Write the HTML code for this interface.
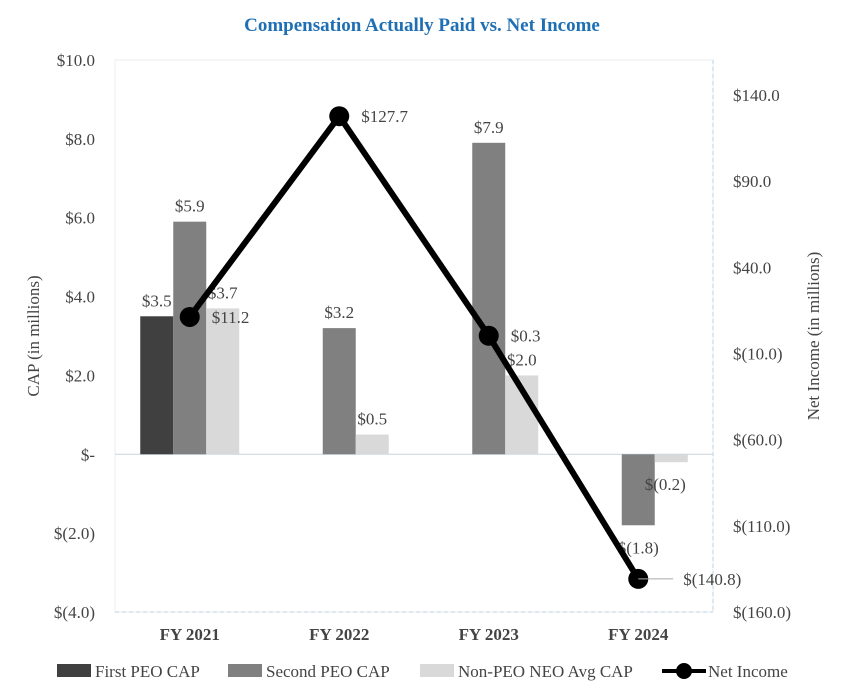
<!DOCTYPE html>
<html><head><meta charset="utf-8"><style>
body{margin:0;background:#fff;}
svg{display:block;font-family:"Liberation Serif",serif;}
</style></head><body>
<svg id="chart" width="846" height="696" viewBox="0 0 846 696">
<text x="422" y="31" text-anchor="middle" font-size="19" font-weight="bold" fill="#1f6fb5">Compensation Actually Paid vs. Net Income</text>
<rect x="115" y="60" width="598" height="552" fill="none" stroke="#eeeeee"/>
<line x1="115" y1="612" x2="713" y2="612" stroke="#b8d3e6" stroke-dasharray="4,3"/>
<line x1="713" y1="60" x2="713" y2="612" stroke="#b8d3e6" stroke-dasharray="4,3"/>
<g id="g-left"></g>
<g id="g-right"></g>
<g id="g-bars"></g>
<g id="g-line"></g>
<g id="g-x"></g>
<text transform="translate(39,336) rotate(-90)" text-anchor="middle" font-size="17" fill="#444">CAP (in millions)</text>
<text transform="translate(819,336) rotate(-90)" text-anchor="middle" font-size="17" fill="#444">Net Income (in millions)</text>
<g>
<g><rect x="57" y="664" width="34" height="13" fill="#404040"/><text x="95" y="677" font-size="17" fill="#444">First PEO CAP</text></g>
<g><rect x="228" y="664" width="34" height="13" fill="#808080"/><text x="266" y="677" font-size="17" fill="#444">Second PEO CAP</text></g>
<g><rect x="420" y="664" width="34" height="13" fill="#d9d9d9"/><text x="458" y="677" font-size="17" fill="#444">Non-PEO NEO Avg CAP</text></g>
<g><line x1="662" y1="671" x2="706" y2="671" stroke="#000" stroke-width="4"/><circle cx="684" cy="671" r="8" fill="#000"/><text x="708" y="677" font-size="17" fill="#444">Net Income</text></g>
</g>
</svg>
<script>
const categories=["FY 2021","FY 2022","FY 2023","FY 2024"];
const firstPeo=[3.5,null,null,null];
const secondPeo=[5.9,3.2,7.9,-1.8];
const nonPeo=[3.7,0.5,2.0,-0.2];
const netIncome=[11.2,127.7,0.3,-140.8];
const leftTicks=[10,8,6,4,2,0,-2,-4];
const rightTicks=[140,90,40,-10,-60,-110,-160];
const NS="http://www.w3.org/2000/svg";
const X0=115,W=598,T=60,B=612;
const yL=v=>T+(10-v)*(B-T)/14;
const yR=v=>T+(140-v)*(B-T-35)/300+35;
const xC=i=>X0+W/categories.length*(i+0.5);
function mk(t,a,p){const e=document.createElementNS(NS,t);for(const k in a)e.setAttribute(k,a[k]);p.appendChild(e);return e;}
const fmt=v=>v===0?"$-":v<0?"$("+Math.abs(v).toFixed(1)+")":"$"+v.toFixed(1);
const gl=document.getElementById('g-left'),gr=document.getElementById('g-right'),gb=document.getElementById('g-bars'),gln=document.getElementById('g-line'),gx=document.getElementById('g-x');
leftTicks.forEach(v=>{const t=mk('text',{x:95,y:yL(v)+6,'text-anchor':'end','font-size':17,fill:'#444'},gl);t.textContent=fmt(v);

});
rightTicks.forEach(v=>{const t=mk('text',{x:733,y:yR(v)+6,'font-size':17,fill:'#444'},gr);t.textContent=fmt(v);

});
const zl=mk('line',{x1:X0,x2:X0+W,y1:yL(0),y2:yL(0),stroke:'#c8d4de'},gb);


const series=[[firstPeo,'#404040',-33,'first-peo'],[secondPeo,'#808080',0,'second-peo'],[nonPeo,'#d9d9d9',33,'non-peo']];
const bw=33;
series.forEach(([arr,col,off,nm],si)=>{arr.forEach((v,i)=>{if(v===null)return;
const cx=xC(i)+off,y0=yL(0),y1=yL(v);
const r=mk('rect',{x:cx-bw/2,y:Math.min(y0,y1),width:bw,height:Math.abs(y1-y0),fill:col},gb);


let lx=cx,ly=v>=0?y1-10:y1+28;
if(si==2&&v<0){lx=cx-6;}
const t=mk('text',{x:lx,y:ly,'text-anchor':'middle','font-size':17,fill:'#444'},gb);t.textContent=fmt(v);

});});
const pts=netIncome.map((v,i)=>xC(i)+','+yR(v)).join(' ');
const pl=mk('polyline',{points:pts,fill:'none',stroke:'#000','stroke-width':6,'stroke-linejoin':'round'},gln);


netIncome.forEach((v,i)=>{const c=mk('circle',{cx:xC(i),cy:yR(v),r:10,fill:'#000'},gln);


let lx=xC(i)+22,ly=yR(v)+6;
if(i==3){lx=xC(i)+45;const ld=mk('line',{x1:xC(i),x2:xC(i)+35,y1:yR(v),y2:yR(v),stroke:'#aaa'},gln);

}
const t=mk('text',{x:lx,y:ly,'font-size':17,fill:'#444'},gln);t.textContent=fmt(v);

});
categories.forEach((c,i)=>{const t=mk('text',{x:xC(i),y:640,'text-anchor':'middle','font-size':17,'font-weight':'bold',fill:'#444'},gx);t.textContent=c;

});
</script>
</body></html>
